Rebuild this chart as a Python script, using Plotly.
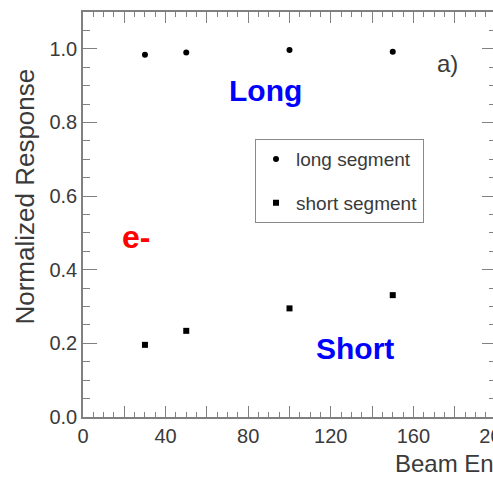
import plotly.graph_objects as go

# ---- data ----
energy = [30, 50, 100, 150]
long_segment = [0.984, 0.990, 0.997, 0.992]
short_segment = [0.196, 0.234, 0.295, 0.331]

x_tick_vals = [0, 20, 40, 60, 80, 100, 120, 140, 160, 180, 200]
x_tick_text = ["0", "", "40", "", "80", "", "120", "", "160", "", "200"]
y_tick_vals = [0.0, 0.2, 0.4, 0.6, 0.8, 1.0]
y_tick_text = ["0.0", "0.2", "0.4", "0.6", "0.8", "1.0"]

series_names = ["long segment", "short segment"]
x_title = "Beam Energy (GeV)"
y_title = "Normalized Response"

# ---- layout constants ----
W, H = 500, 484
ML, MR, MT, MB = 83, 4, 12, 67
FONT = "Liberation Sans, Arial, sans-serif"
AX_COLOR = "#808080"
TXT_COLOR = "#3a3a3a"

fig = go.Figure()
fig.add_trace(go.Scatter(
    x=energy, y=long_segment, mode="markers", name=series_names[0],
    legendgroup="a",
    marker=dict(symbol="circle", size=6, color="black"),
))
fig.add_trace(go.Scatter(
    x=energy, y=short_segment, mode="markers", name=series_names[1],
    legendgroup="b",
    marker=dict(symbol="square", size=6, color="black"),
))

fig.update_layout(
    width=W, height=H,
    margin=dict(l=ML, r=MR, t=MT, b=MB, pad=0, autoexpand=False),
    paper_bgcolor="white", plot_bgcolor="white",
    font=dict(family=FONT, color=TXT_COLOR),
    showlegend=True,
    legend=dict(
        x=0.4165, y=0.686, xanchor="left", yanchor="top",
        bordercolor="#8a8a8a", borderwidth=1, bgcolor="white",
        font=dict(size=19, color=TXT_COLOR, family=FONT),
        tracegroupgap=16,
    ),
    xaxis=dict(
        range=[0, 200], showgrid=False, zeroline=False, automargin=False,
        showline=True, linecolor=AX_COLOR, linewidth=1.5, mirror="ticks",
        ticks="inside", ticklen=11, tickwidth=1.2, tickcolor=AX_COLOR,
        tickvals=x_tick_vals, ticktext=x_tick_text,
        ticklabeloverflow="allow",
        tickfont=dict(size=20, color=TXT_COLOR, family=FONT),
        minor=dict(dtick=5, ticks="inside", ticklen=5, tickwidth=1, tickcolor=AX_COLOR),
    ),
    yaxis=dict(
        range=[0, 1.1], showgrid=False, zeroline=False, automargin=False,
        showline=True, linecolor=AX_COLOR, linewidth=1.5, mirror="ticks",
        ticks="inside", ticklen=14, tickwidth=1.2, tickcolor=AX_COLOR,
        tickvals=y_tick_vals, ticktext=y_tick_text,
        tickfont=dict(size=20, color=TXT_COLOR, family=FONT),
        minor=dict(dtick=0.05, ticks="inside", ticklen=7, tickwidth=1, tickcolor=AX_COLOR),
    ),
)

annotations = [
    dict(text="<b>Long</b>", x=88.4, y=0.888, xref="x", yref="y",
         font=dict(size=30, color="#0000ff", family=FONT)),
    dict(text="<b>Short</b>", x=131.7, y=0.187, xref="x", yref="y",
         font=dict(size=30, color="#0000ff", family=FONT)),
    dict(text="<b>e-</b>", x=25.7, y=0.489, xref="x", yref="y",
         font=dict(size=32, color="#ff0000", family=FONT)),
    dict(text="a)", x=176.3, y=0.960, xref="x", yref="y",
         font=dict(size=24, color=TXT_COLOR, family=FONT)),
    dict(text=x_title, x=0.7506, y=-0.116, xref="paper", yref="paper",
         xanchor="left", yanchor="middle",
         font=dict(size=24, color=TXT_COLOR, family=FONT)),
    dict(text=y_title, x=-0.1404, y=0.5444, xref="paper", yref="paper",
         textangle=-90, xanchor="center", yanchor="middle",
         font=dict(size=26, color=TXT_COLOR, family=FONT)),
]
for a in annotations:
    a.setdefault("showarrow", False)
    a.setdefault("xanchor", "center")
    a.setdefault("yanchor", "middle")
fig.update_layout(annotations=annotations)

fig.write_html(
    "out.html",
    post_script="document.documentElement.style.overflow='hidden';document.body.style.overflow='hidden';",
)
